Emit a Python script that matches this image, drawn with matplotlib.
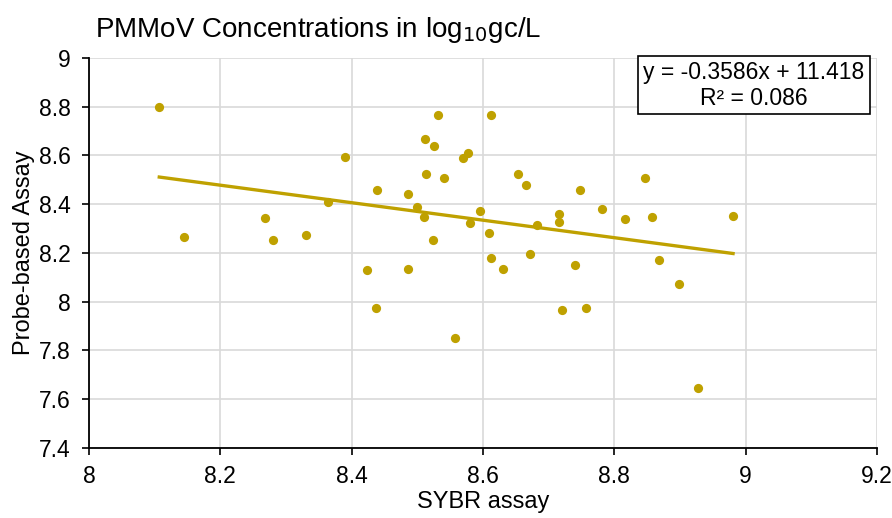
import numpy as np
import matplotlib
matplotlib.use("Agg")
import matplotlib.pyplot as plt
from matplotlib.patches import Rectangle

plt.rcParams['font.family'] = ['Liberation Sans', 'DejaVu Sans']

# valeurs
sybr = [8.107, 8.145, 8.268, 8.280, 8.330, 8.364, 8.390, 8.424, 8.438, 8.437,
        8.486, 8.486, 8.499, 8.510, 8.512, 8.514, 8.524, 8.526, 8.531, 8.540,
        8.558, 8.569, 8.577, 8.581, 8.596, 8.609, 8.612, 8.613, 8.630, 8.653,
        8.665, 8.671, 8.683, 8.716, 8.716, 8.720, 8.740, 8.748, 8.757, 8.781,
        8.817, 8.847, 8.857, 8.868, 8.898, 8.927, 8.981]
probe = [8.800, 8.266, 8.343, 8.253, 8.272, 8.409, 8.593, 8.129, 8.456, 7.975,
         8.440, 8.134, 8.389, 8.347, 8.667, 8.522, 8.253, 8.639, 8.764, 8.508,
         7.852, 8.590, 8.611, 8.324, 8.370, 8.282, 8.766, 8.179, 8.135, 8.522,
         8.477, 8.197, 8.314, 8.358, 8.327, 7.965, 8.152, 8.458, 7.973, 8.379,
         8.340, 8.508, 8.348, 8.172, 8.071, 7.648, 8.353]
slope = -0.3586
intercept = 11.418
r2 = 0.086

col = '#BFA100'

fig = plt.figure(figsize=(8.92, 5.18), dpi=100)
ax = fig.add_axes([0.0998, 0.135, 0.8832, 0.7536])

ax.scatter(sybr, probe, s=44, color=col, zorder=3, linewidths=0)
xl = np.array([min(sybr), max(sybr)])
ax.plot(xl, slope * xl + intercept, color=col, lw=2.4, zorder=2)

ax.set_xlim(8, 9.2)
ax.set_ylim(7.4, 9)
ax.set_xticks(np.arange(8, 9.21, 0.2))
ax.set_yticks(np.arange(7.4, 9.01, 0.2))
ax.set_xticklabels(['8', '8.2', '8.4', '8.6', '8.8', '9', '9.2'])
ax.set_yticklabels(['7.4', '7.6', '7.8', '8', '8.2', '8.4', '8.6', '8.8', '9'])
ax.grid(True, color='#D9D9D9', lw=1.2, zorder=0)
ax.set_axisbelow(True)
for s in ['top', 'right']:
    ax.spines[s].set_visible(False)
for s in ['left', 'bottom']:
    ax.spines[s].set_linewidth(1.3)
    ax.spines[s].set_color('black')
ax.tick_params(direction='out', length=5, width=1.2, labelsize=16.5, colors='black')
ax.tick_params(axis='x', pad=7)
ax.tick_params(axis='y', pad=8)

ax.set_xlabel('SYBR assay', fontsize=17, labelpad=2)
ax.set_ylabel('Probe-based Assay', fontsize=17, labelpad=3)

fig.text(0.106, 0.929, 'PMMoV Concentrations in log$_{10}$gc/L', fontsize=20, va='baseline')

# boite de l'equation
ax.add_patch(Rectangle((0.697, 0.856), 0.294, 0.148, transform=ax.transAxes,
                       fc='white', ec='black', lw=1.2, zorder=5, clip_on=False))
ax.text(0.844, 0.945, 'y = -0.3586x + 11.418', transform=ax.transAxes,
        fontsize=16.5, ha='center', va='baseline', zorder=6)
ax.text(0.844, 0.879, 'R² = %.3f' % r2, transform=ax.transAxes,
        fontsize=16.5, ha='center', va='baseline', zorder=6)

fig.savefig('out.png', dpi=100)
